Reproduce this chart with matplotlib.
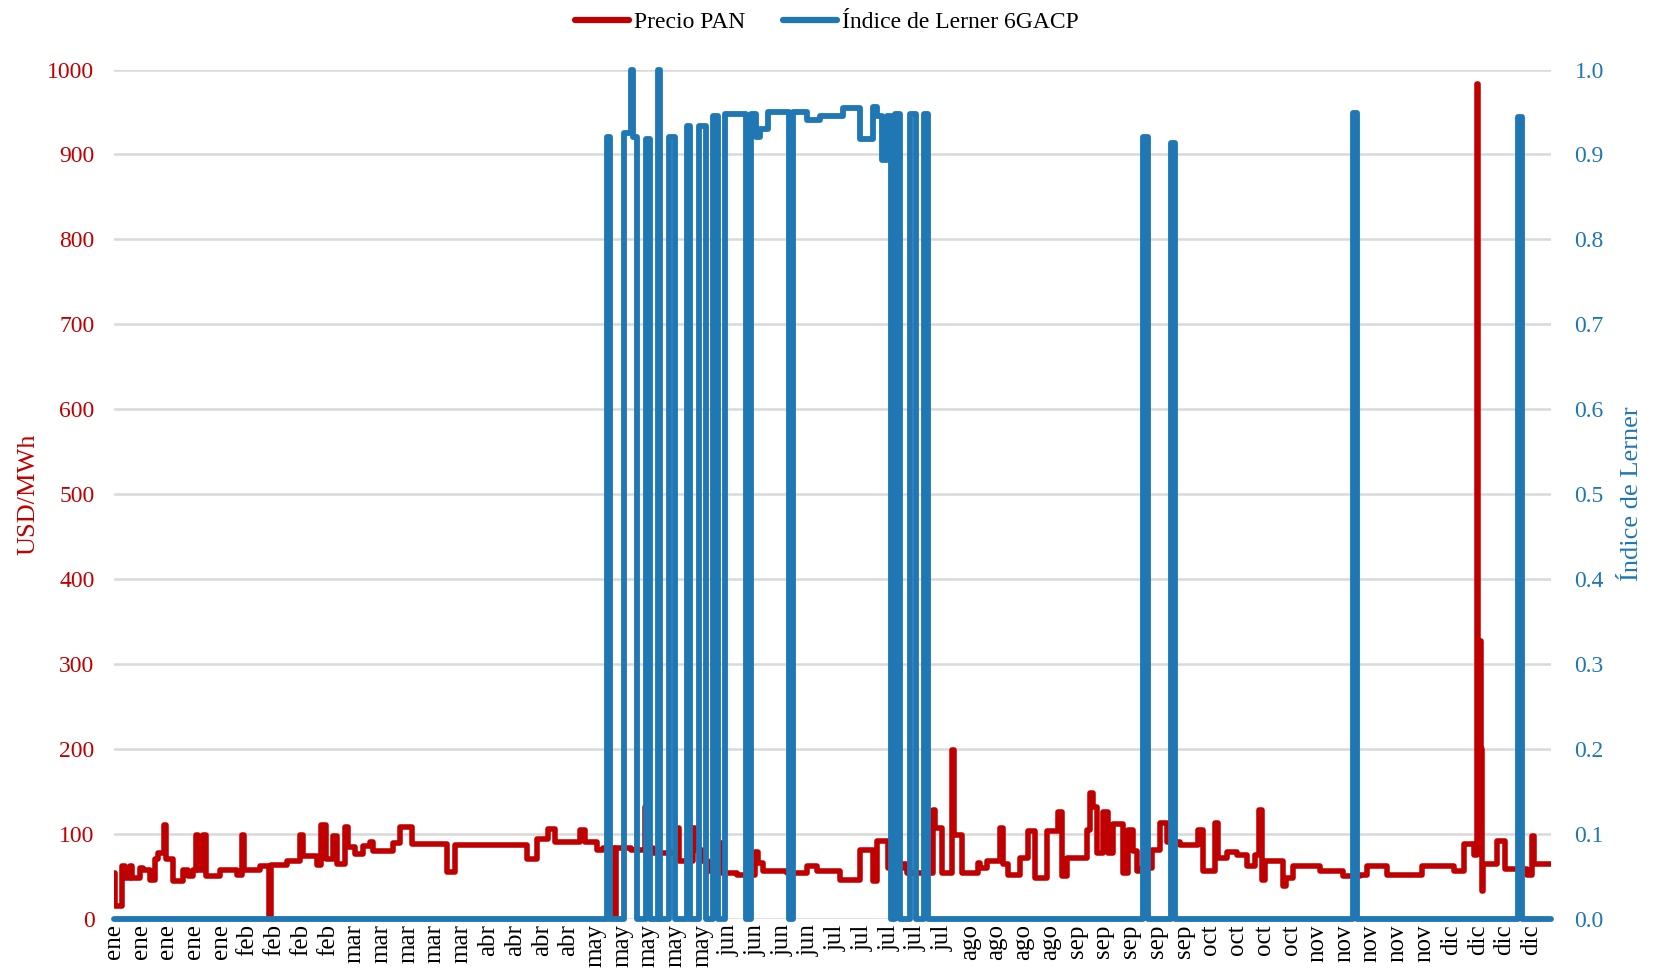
import matplotlib
matplotlib.use("Agg")
import matplotlib.pyplot as plt
from matplotlib.lines import Line2D

# hourly series for one year (hour index 0..8759), stored as step breakpoints:
# each value holds from its hour until the next breakpoint
price_hours = [0, 6, 47, 67, 98, 110, 160, 179, 220, 250, 270, 305, 320, 362, 423, 453, 480, 500, 512, 545,
               558, 646, 748, 778, 790, 890, 945, 955, 1052, 1134, 1150, 1240, 1265, 1295, 1337, 1360, 1408,
               1425, 1470, 1520, 1560, 1581, 1703, 1744, 1815, 2028, 2079, 2516, 2577, 2648, 2688, 2841, 2871,
               2942, 2983, 3050, 3058, 3150, 3236, 3251, 3287, 3430, 3446, 3531, 3541, 3582, 3623, 3694, 3704,
               3795, 3907, 3927, 3958, 4100, 4222, 4283, 4425, 4547, 4628, 4653, 4720, 4811, 4832, 4994, 5004,
               5045, 5106, 5121, 5167, 5268, 5279, 5320, 5401, 5421, 5452, 5523, 5574, 5614, 5685, 5757, 5777,
               5807, 5929, 5950, 5970, 5995, 6031, 6061, 6092, 6153, 6183, 6214, 6234, 6265, 6325, 6376, 6417,
               6498, 6610, 6640, 6712, 6732, 6783, 6844, 6905, 6955, 6982, 6995, 7016, 7128, 7145, 7189, 7352,
               7494, 7596, 7636, 7758, 7972, 8165, 8226, 8287, 8311, 8316, 8330, 8336, 8342, 8429, 8480, 8612,
               8642, 8658, 8759]
price_values = [54, 15, 62, 48, 62, 48, 60, 57, 46, 70, 78, 110, 70, 44, 57, 50, 57, 99, 57, 99,
                50, 57, 52, 99, 57, 62, 0, 63, 68, 99, 74, 63, 110, 70, 97, 65, 108,
                84, 76, 86, 90, 80, 89, 108, 88, 55, 87, 70, 94, 106, 90, 104, 90,
                81, 83, 0, 83, 81, 132, 83, 78, 107, 68, 107, 81, 68, 56, 89, 54,
                52, 79, 66, 56, 54, 62, 56, 46, 81, 44, 91, 60, 64, 54, 128, 107,
                54, 199, 99, 54, 66, 60, 68, 107, 64, 52, 72, 103, 48, 103, 126, 50,
                72, 105, 148, 132, 77, 126, 77, 111, 54, 105, 80, 56, 60, 81, 113, 90,
                87, 105, 56, 113, 72, 79, 75, 62, 75, 128, 46, 68, 38, 48, 62, 56,
                50, 52, 62, 52, 62, 56, 88, 75, 983, 327, 200, 33, 65, 92, 59, 52,
                98, 65, 65]

lerner_hours = [0, 3008, 3021, 3106, 3152, 3164, 3191, 3240, 3270, 3319, 3331, 3386, 3417, 3490, 3514,
                3563, 3606, 3654, 3679, 3722, 3850, 3880, 3914, 3938, 3987, 4112, 4136, 4225, 4304, 4444,
                4548, 4627, 4651, 4682, 4712, 4734, 4761, 4794, 4855, 4888, 4935, 4959, 6275, 6300, 6445,
                6470, 7550, 7574, 8560, 8584, 8759]
lerner_values = [0, 0.92, 0, 0.925, 1.0, 0.92, 0, 0.918, 0, 1.0, 0, 0.921, 0, 0.933, 0,
                 0.933, 0, 0.945, 0, 0.948, 0, 0.948, 0.92, 0.93, 0.95, 0, 0.95, 0.94, 0.945, 0.955,
                 0.918, 0.956, 0.945, 0.893, 0.945, 0, 0.948, 0, 0.948, 0, 0.948, 0, 0.92, 0, 0.913,
                 0, 0.949, 0, 0.944, 0, 0]

# category labels, one every 163 hours
months = ['ene', 'feb', 'mar', 'abr', 'may', 'jun', 'jul', 'ago', 'sep', 'oct', 'nov', 'dic']
labels_per_month = [5, 4, 5, 4, 5, 4, 5, 4, 5, 4, 5, 4]
label_step = 163

RED = '#C00000'
BLUE = '#1F77B4'
GRID = '#D9D9D9'

plt.rcParams['font.family'] = ['Liberation Serif', 'DejaVu Serif']


def tickLabels():
    out = []
    for m, n in zip(months, labels_per_month):
        out += [m] * n
    return out


def plotGraph():
    fig = plt.figure(figsize=(16.54, 9.71), dpi=100)
    ax = fig.add_axes([0.0689, 0.0538, 0.8688, 0.8746])
    ax2 = ax.twinx()

    ax.plot(price_hours, price_values, drawstyle='steps-post', color=RED, linewidth=4.0,
            solid_joinstyle='round', solid_capstyle='round', zorder=3)
    ax2.plot(lerner_hours, lerner_values, drawstyle='steps-post', color=BLUE, linewidth=4.2,
             solid_joinstyle='round', solid_capstyle='round', clip_on=False, zorder=3)

    ax.set_xlim(0, 8759)
    ax.set_ylim(0, 1000)
    ax2.set_ylim(0, 1.0)

    labels = tickLabels()
    ax.set_xticks([i * label_step for i in range(len(labels))])
    ax.set_xticklabels(labels, rotation=90, fontsize=18)

    ax.set_yticks(range(0, 1001, 100))
    ax.set_yticklabels([str(v) for v in range(0, 1001, 100)], fontsize=17, color=RED)
    ax2.set_yticks([i / 10 for i in range(11)])
    ax2.set_yticklabels(['%.1f' % (i / 10) for i in range(11)], fontsize=17, color=BLUE)

    ax.tick_params(axis='x', length=0, pad=4)
    ax.tick_params(axis='y', length=0, pad=14)
    ax2.tick_params(axis='y', length=0, pad=17)

    ax.yaxis.grid(True, color=GRID, linewidth=1.8, zorder=0)
    ax.set_axisbelow(True)
    for a in (ax, ax2):
        for s in a.spines.values():
            s.set_visible(False)

    ax.set_ylabel('USD/MWh', fontsize=19, color=RED, labelpad=6)
    ax2.set_ylabel('Índice de Lerner', fontsize=19, color=BLUE, labelpad=12)

    handles = [Line2D([], [], color=RED, linewidth=4.5, solid_capstyle='round'),
               Line2D([], [], color=BLUE, linewidth=4.5, solid_capstyle='round')]
    fig.legend(handles, ['Precio PAN', 'Índice de Lerner 6GACP'], loc='upper center',
               bbox_to_anchor=(0.5, 1.0), ncol=2, frameon=False, fontsize=17,
               handlelength=2.3, handletextpad=0.2, columnspacing=1.6, borderpad=0.0)

    fig.savefig('out.png', dpi=100)


plotGraph()
